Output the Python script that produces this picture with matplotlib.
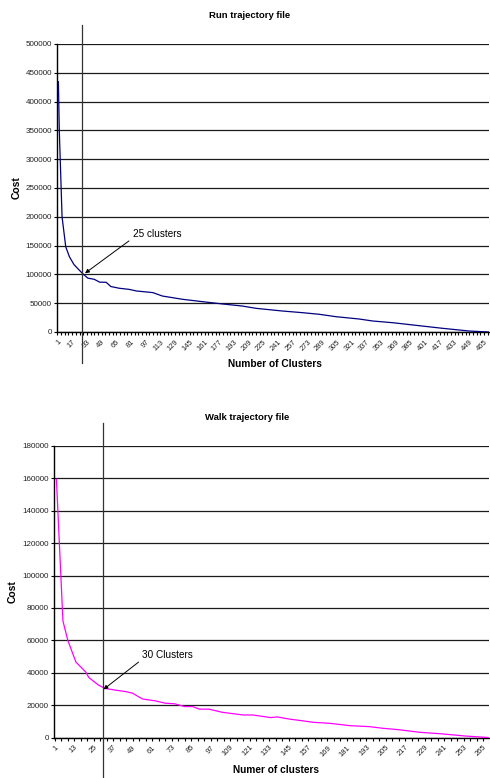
import matplotlib
matplotlib.use('Agg')
import matplotlib.pyplot as plt
import matplotlib.transforms as mtransforms

plt.rcParams['font.family'] = ['Liberation Sans', 'DejaVu Sans']

# run trajectory file: cost vs number of clusters
run_n = [2, 3, 5, 6, 10, 14, 19, 28, 34, 41, 47, 54, 59, 68, 79, 87, 101, 105, 115, 137,
         159, 181, 202, 217, 246, 268, 286, 304, 329, 344, 366, 391, 420, 449, 470]
run_cost = [434500, 350000, 250000, 200000, 148000, 130700, 117000, 102000, 93500, 91500,
            86500, 86300, 79000, 76000, 74000, 71200, 69000, 68300, 62500, 56800,
            52600, 48600, 45100, 41100, 36400, 33500, 30700, 26600, 22600, 19100,
            16100, 11600, 6400, 1700, 0]
run_total = 470
run_cut = 27.5
run_label = '25 clusters'

# walk trajectory file
walk_n = [2, 6, 9, 14, 20, 22, 28, 32, 38, 45, 49, 55, 63, 69, 75, 81, 86, 90, 96, 104,
          117, 123, 134, 138, 146, 153, 160, 170, 183, 195, 203, 213, 226, 240, 254, 268]
walk_cost = [159400, 72000, 60000, 46600, 40500, 37000, 32300, 30300, 29300, 28300,
             27300, 23800, 22600, 21200, 20800, 19100, 19100, 17500, 17500, 15600,
             13900, 13900, 12300, 12700, 11300, 10400, 9400, 8800, 7300, 6700,
             5700, 4800, 3200, 2200, 900, 0]
walk_total = 268
walk_cut = 30.5
walk_label = '30 Clusters'


def draw_panel(ax, n, cost, total, step, ymax, ystep, color, title, xlabel,
               cut, label, tip, text_pos, vspan):
    ax.plot(n, cost, color=color, lw=0.9, zorder=3)
    ax.set_xlim(0.5, total + 0.5)
    ax.set_ylim(0, ymax)
    ax.set_yticks(range(0, ymax + 1, ystep))
    ax.set_yticklabels([str(v) for v in range(0, ymax + 1, ystep)], fontsize=5.8, color='#222222')
    ax.set_xticks(list(range(1, total + 1, step)))
    ax.set_xticklabels([str(v) for v in range(1, total + 1, step)], rotation=45, ha='right',
                       rotation_mode='anchor', fontsize=5.4, color='#222222')
    ax.set_xticks(list(range(1, total + 1, 4)), minor=True)
    ax.tick_params(axis='both', which='both', length=2.2, width=0.8, direction='out', pad=1.5)
    ax.tick_params(axis='x', which='major', pad=2.5)
    ax.grid(axis='y', color='#1a1a1a', lw=0.9)
    ax.set_axisbelow(True)
    for s in ['top', 'right']:
        ax.spines[s].set_visible(False)
    for s in ['left', 'bottom']:
        ax.spines[s].set_linewidth(1.0)
    ax.set_title(title, fontsize=6.8, fontweight='bold', pad=19, x=0.445)
    ax.set_xlabel(xlabel, fontsize=7.3, fontweight='bold', labelpad=4)
    ax.set_ylabel('Cost', fontsize=7.5, fontweight='bold')

    # hand-drawn vertical marker running past the plot area
    trans = mtransforms.blended_transform_factory(ax.transData, ax.transAxes)
    ax.plot([cut, cut], vspan, color='#333333', lw=0.9, transform=trans, clip_on=False, zorder=4)

    ax.annotate(label, xy=tip, xytext=text_pos, fontsize=7.2, ha='left', va='center',
                arrowprops=dict(arrowstyle='-|>', color='black', lw=0.7, mutation_scale=6,
                                shrinkA=1, shrinkB=0, relpos=(0, 0.1)))


fig = plt.figure(figsize=(4.9, 7.78), dpi=100)
ax_run = fig.add_axes([57 / 490, 1 - 332 / 778, 432 / 490, 288 / 778])
ax_walk = fig.add_axes([54 / 490, 1 - 737.5 / 778, 435 / 490, 291.5 / 778])

draw_panel(ax_run, run_n, run_cost, run_total, 16, 500000, 50000, '#000080',
           'Run trajectory file', 'Number of Clusters', run_cut, run_label,
           (31, 102000), (83, 170000), [1.066, -0.108])
draw_panel(ax_walk, walk_n, walk_cost, walk_total, 12, 180000, 20000, '#ff00ff',
           'Walk trajectory file', 'Numer of clusters', walk_cut, walk_label,
           (31, 29700), (55, 50900), [1.078, -0.15])

ax_run.yaxis.set_label_coords(-0.081, 0.5)
ax_walk.yaxis.set_label_coords(-0.084, 0.5)
ax_run.xaxis.set_label_coords(0.505, -0.095)
ax_walk.xaxis.set_label_coords(0.51, -0.095)

fig.savefig('out.png', dpi=100)
